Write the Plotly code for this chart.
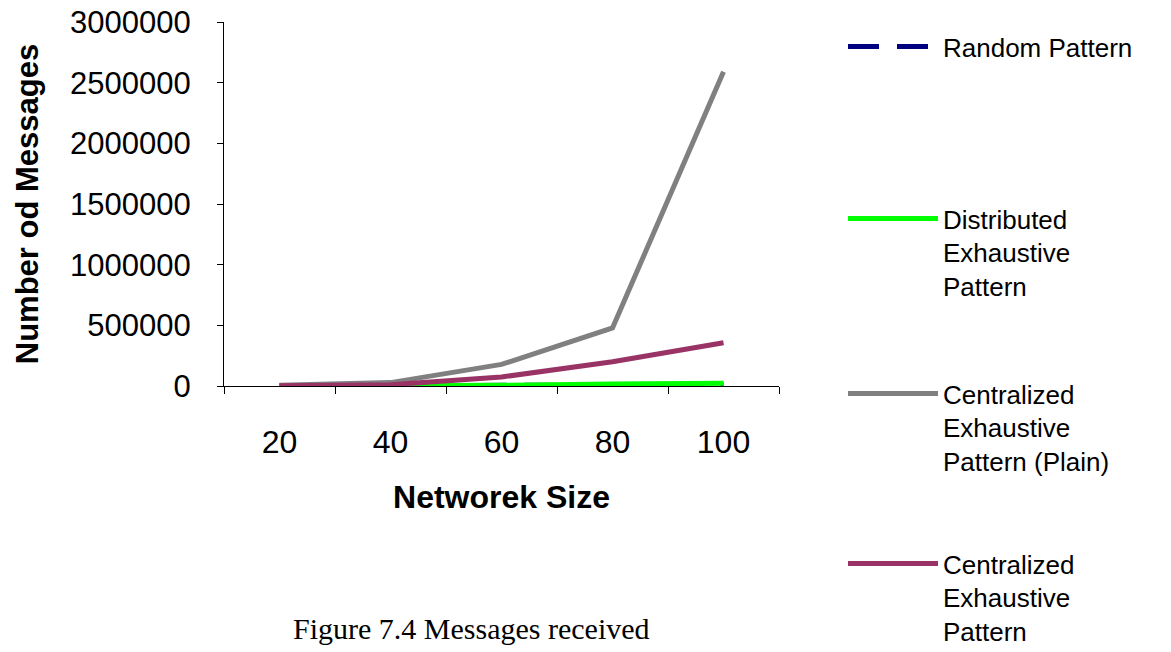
import plotly.graph_objects as go

network_size = ["20", "40", "60", "80", "100"]
random_pattern = [380, 1560, 3650, 6300, 9900]
distributed_exhaustive = [400, 1600, 6000, 16000, 22000]
centralized_plain = [6000, 28000, 178000, 478000, 2590000]
centralized_exhaustive = [2000, 10000, 74000, 200000, 357000]

series_names = [
    "Random Pattern",
    "Distributed<br>Exhaustive<br>Pattern",
    "Centralized<br>Exhaustive<br>Pattern (Plain)",
    "Centralized<br>Exhaustive<br>Pattern",
]
series_values = [random_pattern, distributed_exhaustive, centralized_plain, centralized_exhaustive]
series_colors = ["#000080", "#00ff00", "#808080", "#993366"]
series_dash = ["31px,18px", "solid", "solid", "solid"]
legend_ids = ["legend", "legend2", "legend3", "legend4"]
legend_y = [48, 220, 395, 565]  # window-pixel centre of first text line

OFF = 8  # page body margin
W, H = 1171 - OFF, 652 - OFF
PL, PR, PT, PB = 224, 779, 22, 386  # plot area in window pixels
ML = PL - OFF
MT = PT - OFF
MR = W - (PR - OFF)
MB = H - (PB - OFF)
pw = PR - PL
ph = PB - PT

fig = go.Figure()
for name, vals, col, dash, lg in zip(series_names, series_values, series_colors, series_dash, legend_ids):
    fig.add_trace(go.Scatter(
        x=network_size, y=vals, mode="lines", name=name,
        line=dict(color=col, width=5, dash=dash),
        legend=lg,
    ))

def px_to_paper_x(px):
    return (px - PL) / pw

def px_to_paper_y(py):
    return (PB - py) / ph

legend_font = dict(family="Liberation Sans, Arial, sans-serif", size=26, color="black")
layout_legends = {}
for lg, yy in zip(legend_ids, legend_y):
    layout_legends[lg] = dict(
        x=px_to_paper_x(843), xanchor="left",
        y=px_to_paper_y(yy - 25), yanchor="top",
        font=legend_font, bgcolor="rgba(0,0,0,0)",
        itemwidth=90, valign="top", tracegroupgap=0,
    )

fig.update_layout(
    width=W, height=H,
    margin=dict(l=ML, r=MR, t=MT, b=MB, autoexpand=False),
    paper_bgcolor="white", plot_bgcolor="white",
    showlegend=True,
    font=dict(family="Liberation Sans, Arial, sans-serif", color="black"),
    **layout_legends,
)

fig.update_xaxes(
    type="category", tickson="boundaries", range=[-0.5, 4.5],
    showline=True, linecolor="black", linewidth=1,
    ticks="outside", ticklen=7, tickcolor="black",
    showgrid=False, zeroline=False,
    tickfont=dict(size=32, family="Liberation Sans, Arial, sans-serif"),
    ticklabelstandoff=28,
    title=dict(text="<b>Networek Size</b>", font=dict(size=32), standoff=26),
)
fig.update_yaxes(
    range=[0, 3000000], dtick=500000, tickformat="d",
    showline=True, linecolor="black", linewidth=1,
    ticks="outside", ticklen=6, tickcolor="black",
    showgrid=False, zeroline=False,
    tickfont=dict(size=31, family="Liberation Sans, Arial, sans-serif"),
    ticklabelstandoff=20, ticklabeloverflow="allow",
    title=dict(text="<b>Number od Messages</b>", font=dict(size=31), standoff=22),
)

fig.add_annotation(
    text="Figure 7.4 Messages received",
    xref="paper", yref="paper",
    x=px_to_paper_x(471), y=px_to_paper_y(628),
    xanchor="center", yanchor="middle", showarrow=False,
    font=dict(family="Liberation Serif, Times New Roman, serif", size=30, color="black"),
)

fig.write_html("out.html")
